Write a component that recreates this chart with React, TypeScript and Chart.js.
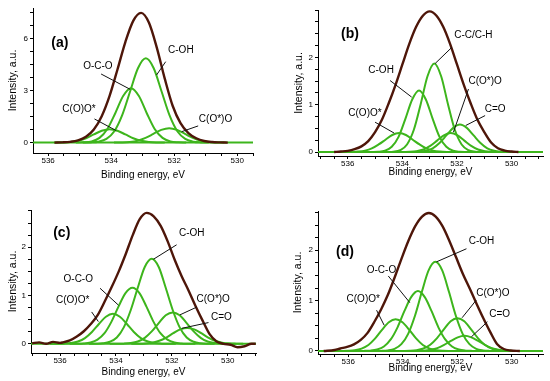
import React, { useEffect, useRef } from "react";
import { Chart, registerables } from "chart.js";

Chart.register(...registerables);

type Pt = [number, number];

// ---------------- tick labels ----------------
const xMajorTicks = [530, 532, 534, 536];
const xMinorTicks = [529, 529.5, 530, 530.5, 531, 531.5, 532, 532.5, 533, 533.5, 534, 534.5, 535, 535.5, 536, 536.5, 537];
const yMajorTicksA = [0, 3, 6];
const yMinorTicksA = [0, 0.75, 1.5, 2.25, 3, 3.75, 4.5, 5.25, 6, 6.75, 7.5];
const yMajorTicksBCD = [0, 1, 2];
const yMinorTicksBCD = [0, 0.25, 0.5, 0.75, 1, 1.25, 1.5, 1.75, 2, 2.25, 2.5, 2.75, 3];

// ---------------- panel (a) ----------------
const aEnvelope: Pt[] = [[535.8, 0], [535.55, 0.013], [535.3, 0.043], [535.05, 0.126], [534.8, 0.33], [534.55, 0.75], [534.3, 1.52], [534.05, 2.69], [533.8, 4.21], [533.55, 5.79], [533.3, 7.01], [533.05, 7.47], [532.8, 6.9], [532.55, 5.45], [532.3, 3.68], [532.05, 2.12], [531.8, 1.12], [531.55, 0.55], [531.3, 0.25], [531.05, 0.09], [530.8, 0.03], [530.55, 0.01], [530.3, 0]];
const aCOH: Pt[] = [[534.9, 0], [534.65, 0.01], [534.4, 0.05], [534.15, 0.21], [533.9, 0.65], [533.65, 1.58], [533.4, 2.94], [533.15, 4.28], [532.9, 4.85], [532.65, 4.28], [532.4, 2.94], [532.15, 1.58], [531.9, 0.65], [531.65, 0.21], [531.4, 0.05], [531.15, 0.01], [530.9, 0]];
const aOCO: Pt[] = [[535.12, 0], [534.87, 0.013], [534.62, 0.066], [534.37, 0.27], [534.12, 0.78], [533.87, 1.69], [533.62, 2.68], [533.37, 3.13], [533.12, 2.68], [532.87, 1.69], [532.62, 0.78], [532.37, 0.27], [532.12, 0.066], [531.87, 0.013], [531.62, 0]];
const aCOOstar: Pt[] = [[535.8, 0], [535.55, 0.008], [535.3, 0.034], [535.05, 0.1], [534.8, 0.25], [534.55, 0.47], [534.3, 0.68], [534.05, 0.77], [533.8, 0.68], [533.55, 0.47], [533.3, 0.25], [533.05, 0.1], [532.8, 0.034], [532.55, 0.008], [532.3, 0]];
const aCOstarO: Pt[] = [[533.91, 0], [533.66, 0.009], [533.41, 0.037], [533.16, 0.11], [532.91, 0.27], [532.66, 0.5], [532.41, 0.73], [532.16, 0.83], [531.91, 0.73], [531.66, 0.5], [531.41, 0.27], [531.16, 0.11], [530.91, 0.037], [530.66, 0.009], [530.41, 0]];

// ---------------- panel (b) ----------------
const bEnvelope: Pt[] = [[536.5, 0], [536.25, 0.01], [536, 0.025], [535.75, 0.06], [535.5, 0.12], [535.25, 0.23], [535, 0.42], [534.75, 0.68], [534.5, 1.03], [534.25, 1.42], [534, 1.85], [533.75, 2.28], [533.5, 2.64], [533.25, 2.88], [533, 2.97], [532.75, 2.88], [532.5, 2.64], [532.25, 2.28], [532, 1.85], [531.75, 1.42], [531.5, 1.03], [531.25, 0.68], [531, 0.42], [530.75, 0.2], [530.5, 0.08], [530.25, 0.03], [530, 0.01], [529.75, 0]];
const bCC: Pt[] = [[534.58, 0], [534.33, 0.007], [534.08, 0.039], [533.83, 0.16], [533.58, 0.47], [533.33, 1.01], [533.08, 1.6], [532.83, 1.87], [532.58, 1.6], [532.33, 1.01], [532.08, 0.47], [531.83, 0.16], [531.58, 0.039], [531.33, 0.007], [531.08, 0]];
const bCOH: Pt[] = [[535.14, 0], [534.89, 0.005], [534.64, 0.027], [534.39, 0.11], [534.14, 0.32], [533.89, 0.7], [533.64, 1.11], [533.39, 1.3], [533.14, 1.11], [532.89, 0.7], [532.64, 0.32], [532.39, 0.11], [532.14, 0.027], [531.89, 0.005], [531.64, 0]];
const bCOOstar: Pt[] = [[536.12, 0], [535.87, 0.002], [535.62, 0.01], [535.37, 0.03], [535.12, 0.076], [534.87, 0.16], [534.62, 0.26], [534.37, 0.36], [534.12, 0.4], [533.87, 0.36], [533.62, 0.26], [533.37, 0.16], [533.12, 0.076], [532.87, 0.03], [532.62, 0.01], [532.37, 0.002], [532.12, 0]];
const bCOstarO: Pt[] = [[533.98, 0], [533.73, 0.004], [533.48, 0.018], [533.23, 0.054], [532.98, 0.13], [532.73, 0.24], [532.48, 0.35], [532.23, 0.4], [531.98, 0.35], [531.73, 0.24], [531.48, 0.13], [531.23, 0.054], [530.98, 0.018], [530.73, 0.004], [530.48, 0]];
const bCO: Pt[] = [[533.64, 0], [533.39, 0.006], [533.14, 0.026], [532.89, 0.078], [532.64, 0.19], [532.39, 0.35], [532.14, 0.51], [531.89, 0.58], [531.64, 0.51], [531.39, 0.35], [531.14, 0.19], [530.89, 0.078], [530.64, 0.026], [530.39, 0.006], [530.14, 0]];

// ---------------- panel (c) ----------------
const cEnvelope: Pt[] = [[537, 0.01], [536.75, 0.03], [536.5, 0], [536.25, 0.04], [536, 0.02], [535.9, 0.03], [535.65, 0.07], [535.4, 0.15], [535.15, 0.26], [534.9, 0.41], [534.65, 0.6], [534.4, 0.88], [534.15, 1.18], [533.9, 1.5], [533.65, 1.86], [533.4, 2.25], [533.15, 2.58], [532.9, 2.71], [532.65, 2.64], [532.4, 2.44], [532.15, 2.12], [531.9, 1.74], [531.65, 1.4], [531.4, 1.1], [531.15, 0.78], [530.9, 0.48], [530.65, 0.2], [530.4, 0.05], [530.15, 0], [529.9, -0.02], [529.65, -0.07], [529.4, -0.05], [529.15, 0], [529, 0]];
const cCOH: Pt[] = [[534.97, 0], [534.72, 0.002], [534.47, 0.011], [534.22, 0.042], [533.97, 0.13], [533.72, 0.34], [533.47, 0.7], [533.22, 1.16], [532.97, 1.59], [532.72, 1.76], [532.47, 1.59], [532.22, 1.16], [531.97, 0.7], [531.72, 0.34], [531.47, 0.13], [531.22, 0.042], [530.97, 0.011], [530.72, 0.002], [530.47, 0]];
const cOCO: Pt[] = [[535.66, 0], [535.41, 0.0015], [535.16, 0.007], [534.91, 0.028], [534.66, 0.088], [534.41, 0.22], [534.16, 0.46], [533.91, 0.77], [533.66, 1.05], [533.41, 1.16], [533.16, 1.05], [532.91, 0.77], [532.66, 0.46], [532.41, 0.22], [532.16, 0.088], [531.91, 0.028], [531.66, 0.007], [531.41, 0.0015], [531.16, 0]];
const cCOOstar: Pt[] = [[536.36, 0], [536.11, 0.001], [535.86, 0.004], [535.61, 0.015], [535.36, 0.047], [535.11, 0.118], [534.86, 0.245], [534.61, 0.41], [534.36, 0.56], [534.11, 0.62], [533.86, 0.56], [533.61, 0.41], [533.36, 0.245], [533.11, 0.118], [532.86, 0.047], [532.61, 0.015], [532.36, 0.004], [532.11, 0.001], [531.86, 0]];
const cCOstarO: Pt[] = [[534.22, 0], [533.97, 0.001], [533.72, 0.004], [533.47, 0.016], [533.22, 0.049], [532.97, 0.124], [532.72, 0.257], [532.47, 0.43], [532.22, 0.59], [531.97, 0.65], [531.72, 0.59], [531.47, 0.43], [531.22, 0.257], [530.97, 0.124], [530.72, 0.049], [530.47, 0.016], [530.22, 0.004], [529.97, 0.001], [529.72, 0]];
const cCO: Pt[] = [[533.45, 0], [533.2, 0.002], [532.95, 0.008], [532.7, 0.025], [532.45, 0.063], [532.2, 0.13], [531.95, 0.22], [531.7, 0.3], [531.45, 0.33], [531.2, 0.3], [530.95, 0.22], [530.7, 0.13], [530.45, 0.063], [530.2, 0.025], [529.95, 0.008], [529.7, 0.002], [529.45, 0]];

// ---------------- panel (d) ----------------
const dEnvelope: Pt[] = [[536.9, 0], [536.5, 0.02], [536.29, 0.05], [536.04, 0.08], [535.79, 0.13], [535.54, 0.22], [535.29, 0.36], [535.04, 0.58], [534.79, 0.83], [534.54, 1.12], [534.29, 1.47], [534.04, 1.84], [533.79, 2.19], [533.54, 2.48], [533.29, 2.67], [533.04, 2.74], [532.79, 2.67], [532.54, 2.48], [532.29, 2.19], [532.04, 1.86], [531.79, 1.53], [531.54, 1.24], [531.29, 0.94], [531.04, 0.65], [530.79, 0.38], [530.54, 0.14], [530.29, 0.04], [530.04, 0.01], [529.7, 0]];
const dCOH: Pt[] = [[535.05, 0], [534.8, 0.002], [534.55, 0.011], [534.3, 0.042], [534.05, 0.135], [533.8, 0.34], [533.55, 0.7], [533.3, 1.17], [533.05, 1.6], [532.8, 1.77], [532.55, 1.6], [532.3, 1.17], [532.05, 0.7], [531.8, 0.34], [531.55, 0.135], [531.3, 0.042], [531.05, 0.011], [530.8, 0.002], [530.55, 0]];
const dOCO: Pt[] = [[535.69, 0], [535.44, 0.0015], [535.19, 0.007], [534.94, 0.029], [534.69, 0.09], [534.44, 0.23], [534.19, 0.47], [533.94, 0.79], [533.69, 1.07], [533.44, 1.19], [533.19, 1.07], [532.94, 0.79], [532.69, 0.47], [532.44, 0.23], [532.19, 0.09], [531.94, 0.029], [531.69, 0.007], [531.44, 0.0015], [531.19, 0]];
const dCOOstar: Pt[] = [[536.51, 0], [536.26, 0.001], [536.01, 0.004], [535.76, 0.015], [535.51, 0.048], [535.26, 0.12], [535.01, 0.25], [534.76, 0.42], [534.51, 0.57], [534.26, 0.63], [534.01, 0.57], [533.76, 0.42], [533.51, 0.25], [533.26, 0.12], [533.01, 0.048], [532.76, 0.015], [532.51, 0.004], [532.26, 0.001], [532.01, 0]];
const dCOstarO: Pt[] = [[534.24, 0], [533.99, 0.001], [533.74, 0.004], [533.49, 0.016], [533.24, 0.049], [532.99, 0.124], [532.74, 0.257], [532.49, 0.43], [532.24, 0.59], [531.99, 0.65], [531.74, 0.59], [531.49, 0.43], [531.24, 0.257], [530.99, 0.124], [530.74, 0.049], [530.49, 0.016], [530.24, 0.004], [529.99, 0.001], [529.74, 0]];
const dCO: Pt[] = [[533.73, 0], [533.48, 0.002], [533.23, 0.007], [532.98, 0.023], [532.73, 0.057], [532.48, 0.12], [532.23, 0.2], [531.98, 0.27], [531.73, 0.3], [531.48, 0.27], [531.23, 0.2], [530.98, 0.12], [530.73, 0.057], [530.48, 0.023], [530.23, 0.007], [529.98, 0.002], [529.73, 0]];

// ---------------- annotation labels (data units) ----------------
interface Ann { text: string; x: number; y: number; from?: Pt; to?: Pt; bold?: boolean }

const aLabels: Ann[] = [
  { text: "(a)", x: 535.63, y: 5.71, bold: true },
  { text: "C-OH", x: 531.79, y: 5.33, from: [532.27, 4.66], to: [532.56, 3.89] },
  { text: "O-C-O", x: 534.42, y: 4.37, from: [534.32, 3.95], to: [533.4, 3.07] },
  { text: "C(O)O*", x: 535.02, y: 1.92, from: [534.53, 1.36], to: [533.84, 0.69] },
  { text: "C(O*)O", x: 530.69, y: 1.34, from: [531.24, 0.96], to: [531.76, 0.63] },
];
const bLabels: Ann[] = [
  { text: "(b)", x: 535.92, y: 2.49, bold: true },
  { text: "C-C/C-H", x: 531.4, y: 2.47, from: [532.19, 2.21], to: [532.8, 1.87] },
  { text: "C-OH", x: 534.78, y: 1.72, from: [534.45, 1.51], to: [533.66, 1.16] },
  { text: "C(O*)O", x: 530.97, y: 1.49, from: [531.58, 1.33], to: [532.13, 0.42] },
  { text: "C=O", x: 530.6, y: 0.91, from: [530.97, 0.77], to: [531.68, 0.56] },
  { text: "C(O)O*", x: 535.37, y: 0.81, from: [535.0, 0.63], to: [534.3, 0.4] },
];
const cLabels: Ann[] = [
  { text: "(c)", x: 535.94, y: 2.29, bold: true },
  { text: "C-OH", x: 531.29, y: 2.29, from: [531.83, 2.05], to: [532.66, 1.75] },
  { text: "O-C-O", x: 535.35, y: 1.34, from: [534.57, 1.15], to: [533.91, 0.8] },
  { text: "C(O)O*", x: 535.55, y: 0.91, from: [534.87, 0.66], to: [534.63, 0.46] },
  { text: "C(O*)O", x: 530.52, y: 0.92, from: [531.11, 0.76], to: [531.71, 0.6] },
  { text: "C=O", x: 530.23, y: 0.54, from: [530.69, 0.44], to: [531.65, 0.32] },
];
const dLabels: Ann[] = [
  { text: "(d)", x: 536.12, y: 1.97, bold: true },
  { text: "C-OH", x: 531.11, y: 2.18, from: [531.66, 2.03], to: [532.76, 1.77] },
  { text: "O-C-O", x: 534.78, y: 1.6, from: [534.53, 1.49], to: [533.74, 0.96] },
  { text: "C(O)O*", x: 535.45, y: 1.03, from: [534.96, 0.81], to: [534.68, 0.51] },
  { text: "C(O*)O", x: 530.69, y: 1.15, from: [531.3, 1.01], to: [531.82, 0.66] },
  { text: "C=O", x: 530.44, y: 0.73, from: [530.89, 0.58], to: [531.48, 0.28] },
];

// ---------------- styling / layout ----------------
const FONT = '"Liberation Sans", Arial, Helvetica, sans-serif';
const GREEN = "#3db51c";
const BROWN = "#4e1609";

interface PanelSpec {
  left: number; top: number; w: number; h: number;
  area: { l: number; t: number; r: number; b: number };
  xMin: number; xMax: number; yMin: number; yMax: number;
  yMajor: number[]; yMinor: number[];
  envelope: Pt[]; components: Pt[][]; labels: Ann[];
  yTitlePad: number; xTitlePad: number;
}

const panels: PanelSpec[] = [
  { left: 0, top: 0, w: 275, h: 190, area: { l: 33, t: 8, r: 253, b: 153 }, xMin: 529.5, xMax: 536.48, yMin: -0.6, yMax: 7.75,
    yMajor: yMajorTicksA, yMinor: yMinorTicksA, envelope: aEnvelope, components: [aCOH, aOCO, aCOOstar, aCOstarO], labels: aLabels, yTitlePad: 7, xTitlePad: 9 },
  { left: 275, top: 0, w: 275, h: 190, area: { l: 43, t: 10, r: 268, b: 156 }, xMin: 528.85, xMax: 537.09, yMin: -0.084, yMax: 3.0,
    yMajor: yMajorTicksBCD, yMinor: yMinorTicksBCD, envelope: bEnvelope, components: [bCC, bCOH, bCOOstar, bCOstarO, bCO], labels: bLabels, yTitlePad: 18, xTitlePad: 12 },
  { left: 0, top: 190, w: 275, h: 191, area: { l: 31, t: 20, r: 256, b: 163 }, xMin: 528.99, xMax: 537.04, yMin: -0.19, yMax: 2.77,
    yMajor: yMajorTicksBCD, yMinor: yMinorTicksBCD, envelope: cEnvelope, components: [cCOH, cOCO, cCOOstar, cCOstarO, cCO], labels: cLabels, yTitlePad: 7, xTitlePad: 3 },
  { left: 275, top: 190, w: 275, h: 191, area: { l: 43, t: 21, r: 268, b: 164 }, xMin: 528.85, xMax: 537.11, yMin: -0.06, yMax: 2.78,
    yMajor: yMajorTicksBCD, yMinor: yMinorTicksBCD, envelope: dEnvelope, components: [dCOH, dOCO, dCOOstar, dCOstarO, dCO], labels: dLabels, yTitlePad: 17, xTitlePad: 7 },
];

const labelPlugin = {
  id: "xpsLabels",
  afterDatasetsDraw(chart: any, _args: any, opts: any) {
    const labels: Ann[] = opts.labels || [];
    const xs = chart.scales.x;
    const ys = chart.scales.y;
    const ctx: CanvasRenderingContext2D = chart.ctx;
    ctx.save();
    for (const l of labels) {
      if (l.from && l.to) {
        ctx.beginPath();
        ctx.strokeStyle = "#111";
        ctx.lineWidth = 1;
        ctx.moveTo(xs.getPixelForValue(l.from[0]), ys.getPixelForValue(l.from[1]));
        ctx.lineTo(xs.getPixelForValue(l.to[0]), ys.getPixelForValue(l.to[1]));
        ctx.stroke();
      }
      ctx.fillStyle = "#000";
      ctx.font = l.bold ? `bold 14px ${FONT}` : `10px ${FONT}`;
      ctx.textAlign = "center";
      ctx.textBaseline = "middle";
      ctx.fillText(l.text, xs.getPixelForValue(l.x), ys.getPixelForValue(l.y));
    }
    ctx.restore();
  },
};

function toXY(pts: Pt[]) {
  return pts.map(([x, y]) => ({ x, y }));
}

function buildConfig(p: PanelSpec): any {
  const base = { pointRadius: 0, fill: false, cubicInterpolationMode: "monotone" };
  const datasets = [
    { ...base, data: toXY(p.envelope), borderColor: BROWN, borderWidth: 2.4 },
    ...p.components.map((c) => ({ ...base, data: toXY(c), borderColor: GREEN, borderWidth: 2 })),
    { ...base, data: toXY([[p.xMax, 0], [p.xMin, 0]]), borderColor: GREEN, borderWidth: 2 },
  ];
  return {
    type: "line",
    data: { datasets },
    plugins: [labelPlugin],
    options: {
      animation: false,
      responsive: false,
      events: [],
      layout: { padding: { left: 0, top: p.area.t, right: p.w - p.area.r, bottom: 0 } },
      plugins: { legend: { display: false }, tooltip: { enabled: false }, xpsLabels: { labels: p.labels } },
      scales: {
        x: {
          type: "linear",
          reverse: true,
          min: p.xMin,
          max: p.xMax,
          afterBuildTicks: (s: any) => {
            s.ticks = xMinorTicks.filter((v) => v >= p.xMin && v <= p.xMax).map((v) => ({ value: v }));
          },
          afterFit: (s: any) => { s.height = p.h - p.area.b; },
          ticks: {
            autoSkip: false,
            maxRotation: 0,
            padding: 0,
            color: "#000",
            font: { family: FONT, size: 8 },
            callback: (v: number) => (xMajorTicks.includes(v) ? String(v) : ""),
          },
          grid: { drawOnChartArea: false, drawTicks: true, tickLength: 3, color: "#000" },
          border: { display: true, color: "#000", width: 1 },
          title: { display: true, text: "Binding energy, eV", color: "#000", font: { family: FONT, size: 10 }, padding: { top: 0, bottom: p.xTitlePad } },
        },
        y: {
          type: "linear",
          min: p.yMin,
          max: p.yMax,
          afterBuildTicks: (s: any) => {
            s.ticks = p.yMinor.filter((v) => v >= p.yMin && v <= p.yMax).map((v) => ({ value: v }));
          },
          afterFit: (s: any) => { s.width = p.area.l; },
          ticks: {
            autoSkip: false,
            padding: 2,
            color: "#000",
            font: { family: FONT, size: 8 },
            callback: (v: number) => (p.yMajor.includes(v) ? String(v) : ""),
          },
          grid: { drawOnChartArea: false, drawTicks: true, tickLength: 3, color: "#000" },
          border: { display: true, color: "#000", width: 1 },
          title: { display: true, text: "Intensity, a.u.", color: "#000", font: { family: FONT, size: 10.5 }, padding: { top: p.yTitlePad, bottom: 0 } },
        },
      },
    },
  };
}

function Panel({ spec }: { spec: PanelSpec }) {
  const ref = useRef<HTMLCanvasElement>(null);
  useEffect(() => {
    if (!ref.current) return;
    const chart = new Chart(ref.current, buildConfig(spec));
    return () => chart.destroy();
  }, [spec]);
  return (
    <div style={{ position: "absolute", left: spec.left, top: spec.top, width: spec.w, height: spec.h }}>
      <canvas ref={ref} width={spec.w} height={spec.h} style={{ display: "block", width: spec.w, height: spec.h }} />
    </div>
  );
}

export default function App() {
  return (
    <div style={{ position: "fixed", left: 0, top: 0, width: 550, height: 381, background: "#fff", overflow: "hidden" }}>
      {panels.map((p, i) => (
        <Panel key={i} spec={p} />
      ))}
    </div>
  );
}
